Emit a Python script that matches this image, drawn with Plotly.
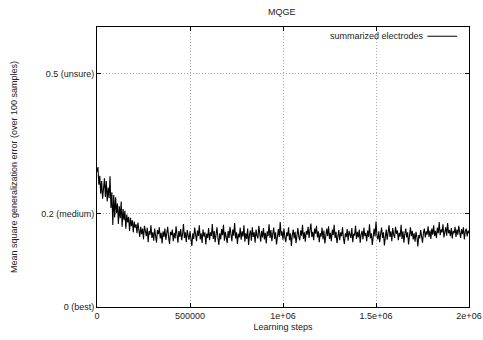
import plotly.graph_objects as go

title_text = "MQGE"
series_name = "summarized electrodes"
x_title = "Learning steps"
y_title = "Mean square generalization error (over 100 samples)"

step_size = 5000
error_values = [
    0.290, 0.300, 0.262, 0.281, 0.243, 0.270, 0.232, 0.262, 0.276, 0.236, 0.270, 0.226, 0.256, 0.233, 0.280, 0.212, 0.246, 0.176, 0.240, 0.192,
    0.235, 0.201, 0.222, 0.178, 0.216, 0.190, 0.226, 0.172, 0.210, 0.186, 0.206, 0.168, 0.198, 0.181, 0.193, 0.163, 0.191, 0.173, 0.186, 0.160,
    0.183, 0.170, 0.177, 0.158, 0.181, 0.165, 0.150, 0.172, 0.156, 0.168, 0.145, 0.174, 0.160, 0.152, 0.170, 0.139, 0.163, 0.155, 0.175, 0.148,
    0.160, 0.142, 0.168, 0.151, 0.138, 0.165, 0.156, 0.171, 0.147, 0.159, 0.136, 0.162, 0.150, 0.168, 0.144, 0.158, 0.172, 0.149, 0.135, 0.161,
    0.154, 0.166, 0.141, 0.159, 0.147, 0.173, 0.152, 0.138, 0.163, 0.150, 0.167, 0.143, 0.156, 0.178, 0.148, 0.160, 0.139, 0.165, 0.153, 0.144,
    0.162, 0.150, 0.131, 0.158, 0.146, 0.170, 0.155, 0.141, 0.164, 0.152, 0.175, 0.145, 0.158, 0.137, 0.166, 0.151, 0.160, 0.134, 0.157, 0.148,
    0.169, 0.143, 0.160, 0.152, 0.178, 0.146, 0.163, 0.139, 0.155, 0.171, 0.149, 0.133, 0.158, 0.145, 0.167, 0.154, 0.176, 0.142, 0.161, 0.150,
    0.137, 0.163, 0.148, 0.172, 0.155, 0.141, 0.166, 0.153, 0.180, 0.147, 0.160, 0.135, 0.157, 0.149, 0.170, 0.144, 0.162, 0.151, 0.175, 0.140,
    0.158, 0.146, 0.168, 0.133, 0.155, 0.164, 0.142, 0.171, 0.150, 0.160, 0.138, 0.166, 0.153, 0.147, 0.174, 0.156, 0.140, 0.163, 0.149, 0.169,
    0.145, 0.159, 0.136, 0.162, 0.152, 0.177, 0.148, 0.165, 0.141, 0.157, 0.170, 0.146, 0.160, 0.134, 0.155, 0.167, 0.150, 0.182, 0.153, 0.162,
    0.144, 0.168, 0.149, 0.139, 0.160, 0.152, 0.171, 0.143, 0.158, 0.131, 0.154, 0.166, 0.147, 0.161, 0.137, 0.156, 0.169, 0.151, 0.143, 0.164,
    0.153, 0.176, 0.146, 0.160, 0.140, 0.163, 0.155, 0.172, 0.148, 0.165, 0.179, 0.150, 0.161, 0.143, 0.168, 0.157, 0.174, 0.149, 0.162, 0.139,
    0.158, 0.151, 0.170, 0.145, 0.164, 0.136, 0.157, 0.168, 0.152, 0.173, 0.146, 0.159, 0.141, 0.166, 0.154, 0.176, 0.148, 0.161, 0.137, 0.156,
    0.165, 0.143, 0.160, 0.152, 0.171, 0.147, 0.135, 0.158, 0.150, 0.167, 0.142, 0.163, 0.155, 0.148, 0.169, 0.139, 0.157, 0.153, 0.174, 0.146,
    0.161, 0.149, 0.166, 0.138, 0.155, 0.163, 0.145, 0.170, 0.152, 0.159, 0.141, 0.164, 0.150, 0.177, 0.147, 0.158, 0.133, 0.156, 0.168, 0.151,
    0.183, 0.154, 0.145, 0.162, 0.139, 0.157, 0.170, 0.148, 0.160, 0.132, 0.153, 0.166, 0.144, 0.158, 0.175, 0.150, 0.162, 0.141, 0.169, 0.155,
    0.148, 0.172, 0.157, 0.164, 0.143, 0.159, 0.151, 0.176, 0.146, 0.162, 0.138, 0.157, 0.168, 0.149, 0.160, 0.134, 0.155, 0.171, 0.152, 0.163,
    0.145, 0.158, 0.140, 0.161, 0.150, 0.130, 0.154, 0.147, 0.165, 0.151, 0.138, 0.159, 0.168, 0.149, 0.162, 0.155, 0.173, 0.150, 0.164, 0.146,
    0.168, 0.155, 0.175, 0.152, 0.163, 0.148, 0.170, 0.158, 0.182, 0.154, 0.166, 0.160, 0.177, 0.149, 0.162, 0.171, 0.153, 0.180, 0.158, 0.165,
    0.152, 0.169, 0.147, 0.163, 0.158, 0.172, 0.150, 0.166, 0.155, 0.174, 0.160, 0.148, 0.167, 0.156, 0.171, 0.145, 0.162, 0.168, 0.151, 0.164,
    0.158,
]
steps = [i * step_size for i in range(len(error_values))]

x_tick_vals = [0, 500000, 1000000, 1500000, 2000000]
x_tick_text = ["0", "500000", "1e+06", "1.5e+06", "2e+06"]
y_tick_vals = [0, 0.2, 0.5]
y_tick_text = ["0 (best)", "0.2 (medium)", "0.5 (unsure)"]

FONT = "Liberation Sans, Arial, Helvetica, sans-serif"
TXT = "#222"

fig = go.Figure()
fig.add_trace(go.Scatter(
    x=steps, y=error_values, mode="lines", name=series_name,
    line=dict(color="black", width=1.1), showlegend=False,
))

axis_common = dict(
    showline=True, linecolor="black", linewidth=1, mirror="ticks",
    ticks="inside", ticklen=4, tickcolor="black", tickwidth=1,
    showgrid=True, gridcolor="#a8a8a8", gridwidth=1, griddash="1px,2px",
    zeroline=False, automargin=False,
    tickfont=dict(size=9, color=TXT, family=FONT),
)

fig.update_xaxes(
    range=[0, 2000000], tickvals=x_tick_vals, ticktext=x_tick_text,
    title=dict(text=x_title, font=dict(size=9, color=TXT, family=FONT), standoff=3),
    **axis_common,
)
fig.update_yaxes(
    range=[0, 0.6], tickvals=y_tick_vals, ticktext=y_tick_text,
    title=dict(text=y_title, font=dict(size=9, color=TXT, family=FONT), standoff=22),
    **axis_common,
)

fig.add_annotation(
    xref="paper", yref="paper", x=0.884, y=0.967, xanchor="right", yanchor="middle",
    text=series_name, showarrow=False, font=dict(size=9, color=TXT, family=FONT),
)
fig.add_shape(type="line", xref="paper", yref="paper", x0=0.888, x1=0.968,
              y0=0.967, y1=0.967, line=dict(color="black", width=1))

fig.update_layout(
    width=483, height=340,
    margin=dict(l=97, r=14, t=27, b=33, pad=0),
    paper_bgcolor="white", plot_bgcolor="white",
    title=dict(text=title_text, x=0.5833, xanchor="center", y=0.965, yanchor="middle",
               font=dict(size=9, color=TXT, family=FONT)),
    font=dict(family=FONT),
)

fig.write_html("out.html")
